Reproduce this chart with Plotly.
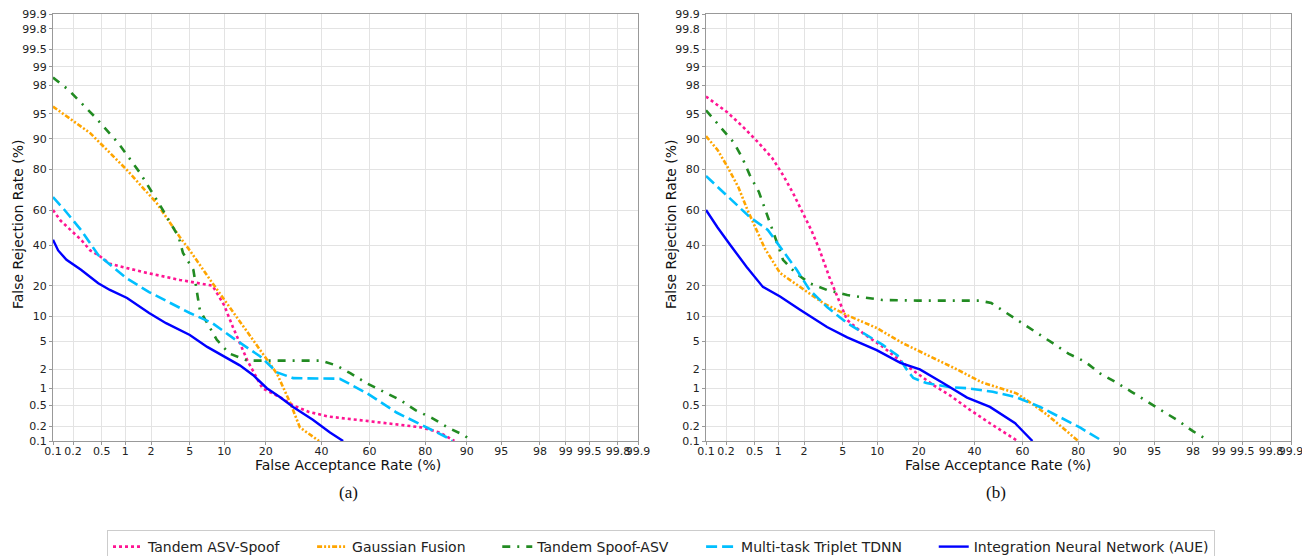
import plotly.graph_objects as go
from statistics import NormalDist

nd = NormalDist()

def pr(vals):
    return [nd.inv_cdf(v / 100.0) for v in vals]

tick_vals = [0.1, 0.2, 0.5, 1, 2, 5, 10, 20, 40, 60, 80, 90, 95, 98, 99, 99.5, 99.8, 99.9]
tick_text = ["0.1", "0.2", "0.5", "1", "2", "5", "10", "20", "40", "60", "80", "90", "95", "98", "99", "99.5", "99.8", "99.9"]

series_names = ["Tandem ASV-Spoof", "Gaussian Fusion", "Tandem Spoof-ASV", "Multi-task Triplet TDNN", "Integration Neural Network (AUE)"]

# ---- panel (a) ----
a_tandem_asv_far = [0.1, 0.13, 0.26, 0.35, 0.45, 0.64, 1.6, 4, 8, 10, 11.7, 15, 19, 24.5, 29, 35, 43, 49, 67, 79, 84, 87.5]
a_tandem_asv_frr = [60, 54, 43, 37, 34.5, 30, 26, 22.4, 20, 13, 7.5, 2.7, 1.0, 0.7, 0.5, 0.38, 0.31, 0.29, 0.23, 0.19, 0.15, 0.1]
a_gauss_far = [0.1, 0.35, 1.05, 2.3, 4, 5, 8, 11.7, 16.4, 23.5, 28, 31.5, 39]
a_gauss_frr = [96, 91.4, 79.7, 63.8, 44.5, 37, 21, 11, 5.2, 1.7, 0.55, 0.19, 0.1]
a_spoof_asv_far = [0.1, 0.17, 0.4, 0.82, 1.5, 2.5, 3.9, 4.3, 5.4, 6.2, 8.7, 11, 15, 23.5, 40, 46, 52, 59, 66, 72, 77, 82, 86, 89.6, 90.8]
a_spoof_asv_frr = [98.5, 97.7, 94.6, 88.9, 78.5, 62.7, 44.5, 35.6, 27, 11.5, 5.2, 3.4, 2.7, 2.7, 2.7, 2.3, 1.75, 1.2, 0.87, 0.62, 0.41, 0.29, 0.19, 0.13, 0.1]
a_tdnn_far = [0.1, 0.15, 0.26, 0.37, 0.45, 1.05, 1.9, 5, 8, 11.7, 18.4, 23.5, 29, 47.6, 59, 70.5, 79, 85.7, 87]
a_tdnn_frr = [67, 60, 48.6, 39, 34.5, 23, 17.5, 10.8, 8.3, 5.5, 3.1, 1.8, 1.46, 1.43, 0.82, 0.37, 0.21, 0.12, 0.1]
a_inn_far = [0.1, 0.12, 0.16, 0.26, 0.45, 0.64, 1.05, 1.9, 2.9, 5, 7.2, 9.9, 13.2, 16.4, 20.3, 24.5, 29, 36.5, 43.5, 49]
a_inn_frr = [43, 37, 32, 27, 21, 18.3, 15.4, 10.8, 8.3, 6, 4.2, 3.1, 2.3, 1.64, 1.0, 0.7, 0.47, 0.27, 0.15, 0.1]

# ---- panel (b) ----
b_tandem_asv_far = [0.1, 0.21, 0.35, 0.55, 0.84, 1.14, 1.5, 1.9, 2.4, 2.9, 3.7, 4.7, 5.5, 7.6, 11.1, 15.6, 19.5, 24.5, 30.5, 38, 46.4, 58]
b_tandem_asv_frr = [97.1, 95.2, 92.7, 89.2, 84.3, 77.6, 69, 58.9, 48.4, 38, 23.6, 13.7, 9, 6.3, 4.2, 2.5, 1.75, 1.13, 0.75, 0.42, 0.23, 0.1]
b_gauss_far = [0.1, 0.15, 0.21, 0.3, 0.4, 0.53, 0.68, 1.05, 1.8, 3.2, 5.5, 9.9, 15.6, 23.5, 33, 43, 57.5, 63, 69.5, 75, 80]
b_gauss_frr = [90.7, 86.9, 81, 72, 60, 48.6, 38, 25.5, 19.5, 13.7, 10.2, 7.3, 4.7, 3.1, 2.0, 1.25, 0.82, 0.57, 0.34, 0.19, 0.1]
b_spoof_asv_far = [0.1, 0.17, 0.26, 0.34, 0.43, 0.57, 0.68, 0.82, 0.97, 1.14, 1.6, 2.3, 3.5, 5.5, 8.2, 11, 19.5, 42, 47, 53.5, 60, 66, 71.7, 77, 82, 85.8, 89.3, 92, 94.1, 95.9, 97.1, 98, 98.7]
b_spoof_asv_frr = [95.5, 92.6, 89, 84.3, 77.6, 69.5, 61, 50.8, 41, 32, 25.5, 21, 18.3, 16.4, 15.4, 14.7, 14.5, 14.5, 13.7, 10.8, 8.3, 6.3, 4.7, 3.4, 2.6, 1.74, 1.25, 0.87, 0.6, 0.39, 0.26, 0.16, 0.1]
b_tdnn_far = [0.1, 0.17, 0.29, 0.43, 0.74, 1.05, 1.65, 2.3, 3.5, 5.5, 8.2, 11, 14.3, 16.6, 18.4, 22.3, 30.5, 37, 47.6, 57.5, 67, 74, 80.5, 86.4]
b_tdnn_frr = [77.2, 70.6, 62.7, 56, 48.6, 39, 27, 18.3, 12.5, 8.3, 6, 4.5, 3.2, 2.0, 1.47, 1.22, 1.04, 1.0, 0.87, 0.7, 0.47, 0.31, 0.19, 0.1]
b_inn_far = [0.1, 0.15, 0.23, 0.39, 0.64, 1.05, 1.8, 3.5, 5.5, 9.9, 15, 20.3, 27.9, 37, 46.4, 57, 64]
b_inn_frr = [60, 50, 40, 28.4, 19.5, 15.9, 11.7, 7.5, 5.6, 3.8, 2.5, 2.0, 1.22, 0.69, 0.47, 0.23, 0.1]

colors = ["#ff1493", "#ffa500", "#228b22", "#00bfff", "#0000ff"]
dashes = ["dot", "5px,2px,2px,2px,2px,2px", "8px,7px,2px,7px", "11px,5px", "solid"]
widths = [2.6, 2.6, 2.6, 2.6, 2.4]
pad = "\u00a0" * 6
legend_labels = [n + pad for n in series_names[:-1]] + [series_names[-1]]

panel_a = [(a_tandem_asv_far, a_tandem_asv_frr), (a_gauss_far, a_gauss_frr), (a_spoof_asv_far, a_spoof_asv_frr),
           (a_tdnn_far, a_tdnn_frr), (a_inn_far, a_inn_frr)]
panel_b = [(b_tandem_asv_far, b_tandem_asv_frr), (b_gauss_far, b_gauss_frr), (b_spoof_asv_far, b_spoof_asv_frr),
           (b_tdnn_far, b_tdnn_frr), (b_inn_far, b_inn_frr)]

fig = go.Figure()
for i, (fx, fy) in enumerate(panel_a):
    fig.add_trace(go.Scatter(x=pr(fx), y=pr(fy), mode="lines", name=legend_labels[i],
                             line=dict(color=colors[i], dash=dashes[i], width=widths[i]),
                             xaxis="x", yaxis="y", showlegend=True))
for i, (fx, fy) in enumerate(panel_b):
    fig.add_trace(go.Scatter(x=pr(fx), y=pr(fy), mode="lines", name=series_names[i],
                             line=dict(color=colors[i], dash=dashes[i], width=widths[i]),
                             xaxis="x2", yaxis="y2", showlegend=False))

lim = nd.inv_cdf(0.001)
rng = [lim, -lim]
OFF = 8  # browser body margin
W, H = 1310 - OFF, 556 - OFF

def X(px):
    return (px - OFF) / W

def Y(py):
    return (556 - py) / H

ydom = [Y(441), Y(14)]

axis_common = dict(
    range=rng, tickmode="array", tickvals=pr(tick_vals), ticktext=tick_text,
    showgrid=True, gridcolor="#e3e3e3", gridwidth=1,
    showline=True, linecolor="#999999", linewidth=1, mirror=True,
    ticks="outside", ticklen=3, tickcolor="#999999", tickangle=0,
    tickfont=dict(family="DejaVu Sans", size=11, color="#222222"),
    zeroline=False, fixedrange=True, automargin=False,
)
xaxis_extra = dict(ticklabelstandoff=-3)

fig.update_layout(
    width=W, height=H,
    margin=dict(l=0, r=0, t=0, b=0, autoexpand=False),
    paper_bgcolor="white", plot_bgcolor="white",
    xaxis=dict(domain=[X(53), X(638)], anchor="y", **axis_common, **xaxis_extra),
    yaxis=dict(domain=ydom, anchor="x", **axis_common),
    xaxis2=dict(domain=[X(706), X(1291)], anchor="y2", **axis_common, **xaxis_extra),
    yaxis2=dict(domain=ydom, anchor="x2", **axis_common),
    legend=dict(orientation="h", x=X(107), xanchor="left", y=Y(530), yanchor="top",
                font=dict(family="DejaVu Sans", size=14, color="#222222"),
                bordercolor="#cccccc", borderwidth=1, bgcolor="white",
                itemwidth=30, tracegroupgap=0),
    showlegend=True,
)

title_font = dict(family="DejaVu Sans", size=14, color="#111111")
serif = dict(family="Liberation Serif", size=17, color="#111111")
ann = [
    dict(text="False Acceptance Rate (%)", x=X(348), y=Y(465), font=title_font),
    dict(text="False Acceptance Rate (%)", x=X(998), y=Y(465), font=title_font),
    dict(text="False Rejection Rate (%)", x=X(18), y=Y(224), textangle=-90, font=title_font),
    dict(text="False Rejection Rate (%)", x=X(671), y=Y(224), textangle=-90, font=title_font),
    dict(text="(a)", x=X(348), y=Y(492), font=serif),
    dict(text="(b)", x=X(996), y=Y(492), font=serif),
]
for a in ann:
    a.update(xref="paper", yref="paper", showarrow=False, xanchor="center", yanchor="middle")
fig.update_layout(annotations=ann)

fig.write_html("out.html")
